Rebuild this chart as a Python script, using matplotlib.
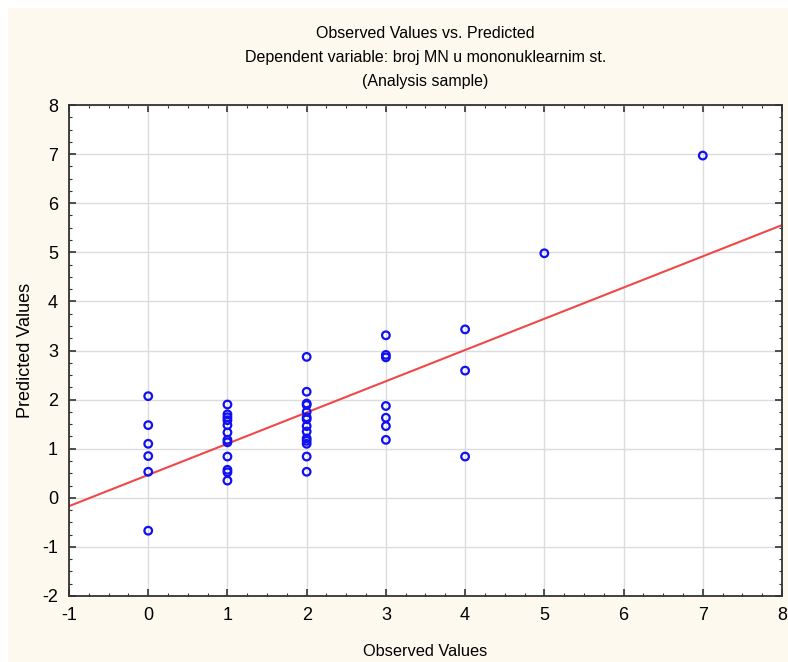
import matplotlib.pyplot as plt
from matplotlib.patches import Rectangle
from matplotlib.ticker import MultipleLocator

plt.rcParams["font.family"] = ["Liberation Sans", "DejaVu Sans"]
plt.rcParams["axes.unicode_minus"] = False

obs_0 = [2.07, 1.48, 1.10, 0.85, 0.53, -0.67]
obs_1 = [1.90, 1.70, 1.64, 1.58, 1.48, 1.33, 1.18, 1.13, 0.84, 0.57, 0.52, 0.35]
obs_2 = [2.87, 2.16, 1.92, 1.89, 1.75, 1.64, 1.60, 1.46, 1.35, 1.21, 1.16, 1.10, 0.84, 0.53]
obs_3 = [3.31, 2.91, 2.86, 1.87, 1.63, 1.46, 1.18]
obs_4 = [3.43, 2.59, 0.84]
obs_5 = [4.98]
obs_7 = [6.97]
groups = {0: obs_0, 1: obs_1, 2: obs_2, 3: obs_3, 4: obs_4, 5: obs_5, 7: obs_7}

fit_intercept = 0.466
fit_slope = 0.636

x_obs, y_pred = [], []
for k, vals in groups.items():
    x_obs += [k] * len(vals)
    y_pred += vals

fig = plt.figure(figsize=(7.88, 6.62), dpi=100)
fig.patch.set_facecolor("white")
fig.patches.append(Rectangle((8 / 788, 0), 1, (662 - 8) / 662, transform=fig.transFigure,
                             facecolor="#FEF9EF", edgecolor="none", zorder=-10))
ax = fig.add_axes([69 / 788, 1 - 596 / 662, (782 - 69) / 788, (596 - 105) / 662])
ax.set_facecolor("white")

xl = [-1, 8]
ax.plot(xl, [fit_intercept + fit_slope * v for v in xl], color="#F04848", lw=1.5, zorder=2)
ax.scatter(x_obs, y_pred, s=30, facecolors="none", edgecolors="#1010F0", linewidths=1.6, zorder=3)

ax.set_xlim(-1, 8)
ax.set_ylim(-2, 8)
ax.xaxis.set_major_locator(MultipleLocator(1))
ax.yaxis.set_major_locator(MultipleLocator(1))
ax.xaxis.set_minor_locator(MultipleLocator(0.25))
ax.yaxis.set_minor_locator(MultipleLocator(0.25))
ax.grid(True, which="major", color="#DCDCDC", lw=1)
ax.set_axisbelow(True)
ax.tick_params(which="both", direction="in", top=True, right=True, color="#333333")
ax.tick_params(which="major", length=5, width=1.2, labelsize=13, pad=8)
ax.tick_params(which="minor", length=2.5, width=0.8)
for s in ax.spines.values():
    s.set_color("#333333")
    s.set_linewidth(1.3)

ax.set_xlabel("Observed Values", fontsize=11.8, labelpad=14)
ax.set_ylabel("Predicted Values", fontsize=13, labelpad=6)
ax.set_title("Observed Values vs. Predicted\nDependent variable: broj MN u mononuklearnim st.\n(Analysis sample)",
             fontsize=11.5, linespacing=1.75, pad=14)

fig.savefig("out.png", dpi=100)
